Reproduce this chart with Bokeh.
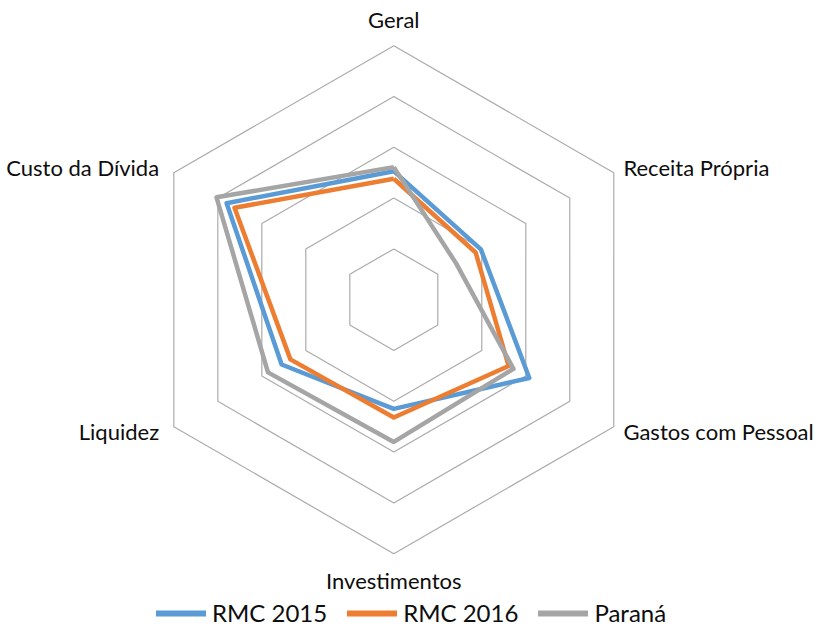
import numpy as np
from bokeh.plotting import figure
from bokeh.models import Legend, LegendItem, ColumnDataSource
from bokeh.core.properties import value
from bokeh.embed import file_html
from bokeh.resources import INLINE

# ---- data ----
categories = ["Geral", "Receita Própria", "Gastos com Pessoal", "Investimentos", "Liquidez", "Custo da Dívida"]
rmc_2015 = [2.53, 1.98, 3.08, 2.15, 2.55, 3.80]
rmc_2016 = [2.38, 1.86, 2.61, 2.32, 2.35, 3.62]
parana = [2.61, 1.42, 2.72, 2.80, 2.86, 4.03]
series_names = ["RMC 2015", "RMC 2016", "Paraná"]
series_values = [rmc_2015, rmc_2016, parana]
series_colors = ["#5B9BD5", "#ED7D31", "#A5A5A5"]
ring_levels = [1, 2, 3, 4, 5]

# ---- geometry ----
n = len(categories)
angles = np.pi / 2 - np.arange(n) * 2 * np.pi / n
unit = 50.8  # pixels per ring unit
W, H = 816, 627
cx_px, cy_px = 393.3, 299.2  # centre within figure (from top-left)
x0 = -cx_px / unit
y1 = cy_px / unit

p = figure(width=W, height=H, output_backend="svg", toolbar_location=None,
           x_range=(x0, x0 + W / unit), y_range=(y1 - H / unit, y1),
           min_border=0, outline_line_color=None)
p.axis.visible = False
p.grid.visible = False
p.background_fill_color = "white"
p.border_fill_color = "white"

# rings
ring_xs = []
ring_ys = []
for r in ring_levels:
    ring_xs.append(list(r * np.cos(angles)) + [r * np.cos(angles[0])])
    ring_ys.append(list(r * np.sin(angles)) + [r * np.sin(angles[0])])
p.multi_line(ring_xs, ring_ys, line_color="#ABABAB", line_width=1.2)

# series
for name, vals, col in zip(series_names, series_values, series_colors):
    v = np.array(vals + [vals[0]])
    a = np.append(angles, angles[0])
    p.line(v * np.cos(a), v * np.sin(a), line_color=col, line_width=4.5,
           line_join="round")

# legend proxies (thicker, round caps like the original); NaN data, never drawn in plot
legend_renderers = [p.line([np.nan], [np.nan], line_color=col, line_width=6, line_cap="round")
                    for col in series_colors]

# category labels
lab_x = []
lab_y = []
aligns = []
for a in angles:
    c, s = np.cos(a), np.sin(a)
    if abs(c) < 1e-6:
        lab_x.append(0.0)
        lab_y.append(5.52 * np.sign(s))
        aligns.append("center")
    elif c > 0:
        lab_x.append(4.52)
        lab_y.append(2.6 * np.sign(s))
        aligns.append("left")
    else:
        lab_x.append(-4.62)
        lab_y.append(2.6 * np.sign(s))
        aligns.append("right")
src = ColumnDataSource(dict(x=lab_x, y=lab_y, text=categories, align=aligns))
p.text(x="x", y="y", text="text", source=src, text_align="align",
       text_baseline="middle", text_font=value("Lato"), text_font_size="22px",
       text_color="#0d0d0d")

legend = Legend(items=[LegendItem(label=nm, renderers=[r]) for nm, r in zip(series_names, legend_renderers)],
                orientation="horizontal", location=(156, 0),
                label_text_font="Lato", label_text_font_size="24px",
                label_text_color="#0d0d0d", label_height=24, glyph_height=24,
                glyph_width=50, label_standoff=6, spacing=20,
                padding=0, margin=0, border_line_color=None,
                background_fill_alpha=0)
p.add_layout(legend, "center")

open("out.html", "w").write(file_html(p, INLINE))
